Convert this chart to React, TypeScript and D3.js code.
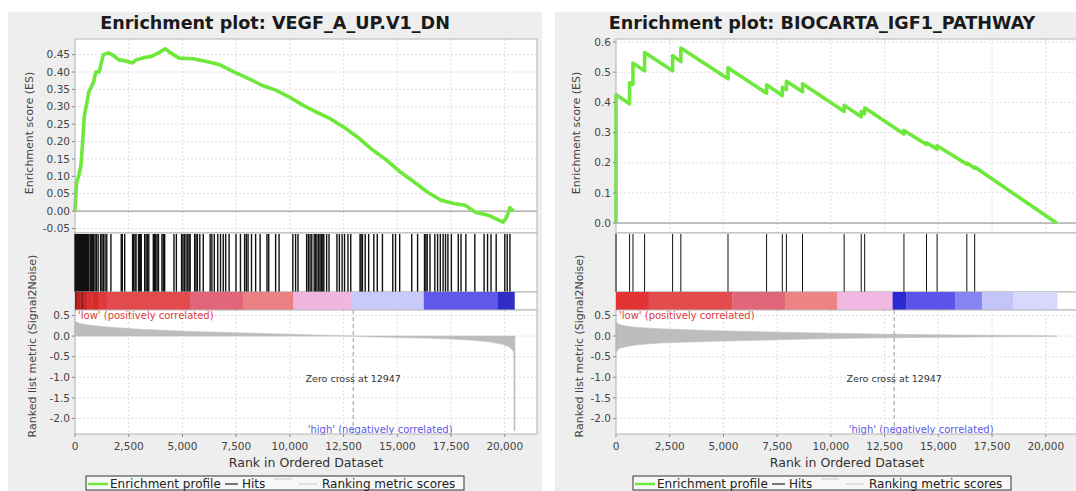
import React from "react";
import * as d3 from "d3";

// shared axis values
const rankTicks = [0, 2500, 5000, 7500, 10000, 12500, 15000, 17500, 20000];
const metricTicks = [0.5, 0, -0.5, -1, -1.5, -2];
const zeroCross = 12947;

// left plot: VEGF_A_UP.V1_DN
const vegfTitle = "Enrichment plot: VEGF_A_UP.V1_DN";
const vegfEsTicks = [0.45, 0.4, 0.35, 0.3, 0.25, 0.2, 0.15, 0.1, 0.05, 0, -0.05];
const vegfEsRank = [0, 67, 164, 276, 356, 436, 548, 645, 757, 869, 965, 1126, 1238, 1318, 1559, 1799, 2040, 2361, 2682, 2842, 3243, 3564, 3885, 4205, 4446, 4847, 5488, 6130, 6771, 7413, 8054, 8695, 9337, 9978, 10620, 11261, 11902, 12544, 13185, 13827, 14468, 15109, 15751, 16392, 17034, 17675, 18156, 18637, 19279, 19920, 20081, 20241, 20402];
const vegfEs = [0, 0.08, 0.1, 0.13, 0.2, 0.275, 0.31, 0.343, 0.357, 0.372, 0.4, 0.4, 0.43, 0.45, 0.455, 0.447, 0.435, 0.432, 0.426, 0.435, 0.442, 0.445, 0.455, 0.467, 0.455, 0.44, 0.438, 0.43, 0.42, 0.4, 0.382, 0.362, 0.348, 0.328, 0.304, 0.284, 0.265, 0.24, 0.211, 0.177, 0.148, 0.114, 0.085, 0.055, 0.031, 0.021, 0.017, -0.003, -0.013, -0.032, -0.018, 0.01, 0];
const vegfHits = [3, 35, 67, 99, 131, 164, 196, 228, 260, 292, 324, 356, 388, 420, 452, 484, 516, 548, 580, 613, 645, 709, 757, 805, 869, 933, 997, 1078, 1190, 1254, 1318, 1398, 1479, 1671, 2152, 2200, 2312, 2681, 2729, 2793, 2842, 2954, 3002, 3050, 3082, 3243, 3307, 3371, 3435, 3644, 3692, 3756, 3820, 3885, 4045, 4109, 4173, 4606, 4718, 4959, 5023, 5087, 5167, 5247, 5311, 5359, 5568, 5632, 5696, 5808, 5969, 6290, 6370, 6482, 6642, 6771, 6899, 7011, 7171, 7492, 7700, 7893, 7973, 8053, 8214, 8406, 8614, 8935, 9015, 9336, 9497, 10138, 10266, 10378, 10779, 10859, 10939, 11019, 11131, 11196, 11260, 11340, 11404, 11468, 11532, 11580, 11709, 11821, 12190, 12302, 12430, 12543, 12703, 12832, 13265, 13313, 13377, 13505, 13666, 13906, 14067, 14307, 14788, 14917, 15109, 15670, 15943, 16264, 16328, 16392, 16520, 16745, 16873, 17001, 17130, 17242, 17354, 17515, 17836, 17964, 18189, 18606, 19039, 19199, 19360, 19600, 20001, 20113, 20241];
const vegfHeatBreaks = [0, 120, 250, 400, 543, 800, 1100, 1474, 5349, 7814, 10163, 12832, 16232, 19680, 20450];
const vegfHeatColors = ["#9e1818", "#c42222", "#a81818", "#c82626", "#dc3030", "#d42a2a", "#e03a3a", "#e24a4e", "#e2657a", "#ea8284", "#f0b6e0", "#cacafa", "#6058ea", "#2e2ec6"];
const vegfMetricRank = [0, 200, 600, 1500, 3000, 5000, 7500, 10000, 11500, 12947, 14000, 15000, 16500, 17500, 18500, 19300, 19900, 20200, 20400, 20425, 20430, 20475];
const vegfMetricHigh = [0.36, 0.31, 0.27, 0.22, 0.165, 0.12, 0.08, 0.045, 0.02, 0, 0, 0, 0, 0, 0, 0, 0, 0, 0, 0, 0, 0];
const vegfMetricLow = [0, 0, 0, 0, 0, 0, 0, 0, 0, 0, -0.02, -0.035, -0.05, -0.07, -0.1, -0.14, -0.2, -0.26, -0.36, -0.45, -2.3, -2.3];

// right plot: BIOCARTA_IGF1_PATHWAY
const igfTitle = "Enrichment plot: BIOCARTA_IGF1_PATHWAY";
const igfEsTicks = [0.6, 0.5, 0.4, 0.3, 0.2, 0.1, 0];
const igfEsRank = [0, 1, 632, 632, 790, 790, 1331, 1331, 2634, 2634, 3017, 3017, 5212, 5212, 7008, 7008, 7740, 7740, 7930, 7930, 8679, 8679, 10617, 10617, 11412, 11412, 11572, 11572, 13400, 13400, 14450, 14450, 14943, 14943, 16326, 16326, 16692, 16692, 20500];
const igfEs = [0, 0.425, 0.395, 0.465, 0.46, 0.53, 0.505, 0.565, 0.505, 0.555, 0.535, 0.58, 0.478, 0.515, 0.43, 0.458, 0.423, 0.45, 0.442, 0.47, 0.435, 0.462, 0.37, 0.39, 0.352, 0.37, 0.362, 0.382, 0.295, 0.307, 0.26, 0.266, 0.245, 0.256, 0.195, 0.199, 0.182, 0.186, 0];
const igfHits = [1, 632, 790, 1331, 2634, 3017, 5212, 7008, 7740, 7930, 8679, 10617, 11412, 11572, 13400, 14450, 14943, 16326, 16692];
const igfHeatBreaks = [0, 1521, 5418, 7883, 10298, 12874, 13512, 15786, 17028, 18488, 20526];
const igfHeatColors = ["#e23434", "#e24c4c", "#e2667a", "#ec8484", "#f0b8e2", "#2a2ad2", "#5c54ea", "#8484f2", "#c4c4fa", "#d8d8fc"];
const igfMetricRank = [0, 150, 500, 1000, 2000, 3000, 5000, 7500, 10000, 12500, 15000, 17000, 19000, 20500];
const igfMetricHigh = [0.35, 0.28, 0.24, 0.21, 0.18, 0.16, 0.125, 0.095, 0.07, 0.045, 0.03, 0.02, 0.012, 0.005];
const igfMetricLow = [-0.39, -0.3, -0.25, -0.21, -0.17, -0.15, -0.12, -0.09, -0.06, -0.04, -0.03, -0.02, -0.01, -0.003];

const W = 1076;
const H = 491;
const PANEL_TOP = 12;
const PANEL_W = 534;
const PLOT_W = 462;
const RANK_MAX = 21500;
const ES_TOP = 39;
const ES_BOTTOM = 233;
const HEAT_TOP = 292;
const HEAT_BOTTOM = 310;
const M_BOTTOM = 434;
const FONT = "'DejaVu Sans', Verdana, sans-serif";
const GREEN = "#6ee83a";

const loc = d3.formatLocale({ decimal: ".", thousands: ",", grouping: [3], currency: ["", ""], minus: "-" });
const fmtRank = loc.format(",");

function Panel({ left, plotLeft, title, esTicks, esDomain, esFmt, esRank, es, hits, hitWidth, heatBreaks, heatColors, mRank, mHigh, mLow }: any) {
    const x = d3.scaleLinear().domain([0, RANK_MAX]).range([plotLeft, plotLeft + PLOT_W]);
    const yEs = d3.scaleLinear().domain(esDomain).range([ES_BOTTOM, ES_TOP]);
    const yM = d3.scaleLinear().domain([-2.376, 0.633]).range([M_BOTTOM, HEAT_BOTTOM]);
    const fmt = loc.format(esFmt);
    const fmtM = loc.format(".1f");

    const esLine = d3.line<number>().x((d, i) => x(esRank[i])).y((d) => yEs(d));
    const mArea = d3.area<number>().x((d, i) => x(mRank[i])).y0((d, i) => yM(mLow[i])).y1((d) => yM(d));

    const right = plotLeft + PLOT_W;
    const cx = left + PANEL_W / 2;
    const grid = { stroke: "#d6d6d6", strokeWidth: 0.8, strokeDasharray: "2,2" };

    // legend geometry
    const lgLeft = cx - 189;

    return (
        <g fontFamily={FONT}>
            <rect x={left} y={PANEL_TOP} width={PANEL_W} height={H - PANEL_TOP} fill="#eeeeee" />
            <text x={cx} y={29} textAnchor="middle" fontSize={17.6} fontWeight="bold" fill="#1a1a1a">{title}</text>

            {/* enrichment score plot */}
            <rect x={plotLeft} y={ES_TOP} width={PLOT_W} height={ES_BOTTOM - ES_TOP} fill="#fff" />
            {esTicks.map((t: number) => (
                <line key={"eg" + t} x1={plotLeft} x2={right} y1={yEs(t)} y2={yEs(t)} {...grid} />
            ))}
            {rankTicks.map((t) => (
                <line key={"ev" + t} x1={x(t)} x2={x(t)} y1={ES_TOP} y2={ES_BOTTOM} {...grid} />
            ))}
            <line x1={plotLeft} x2={right} y1={yEs(0)} y2={yEs(0)} stroke="#8a8a8a" strokeWidth={1} />
            <path d={esLine(es) || ""} fill="none" stroke={GREEN} strokeWidth={3.6} strokeLinejoin="round" />
            {esTicks.map((t: number) => (
                <g key={"et" + t}>
                    <line x1={plotLeft - 3} x2={plotLeft} y1={yEs(t)} y2={yEs(t)} stroke="#888" />
                    <text x={plotLeft - 5} y={yEs(t)} dy="0.35em" textAnchor="end" fontSize={10.5} fill="#444">{fmt(t)}</text>
                </g>
            ))}
            <rect x={plotLeft} y={ES_TOP} width={PLOT_W} height={ES_BOTTOM - ES_TOP} fill="none" stroke="#b4b4b4" />
            <text transform={`translate(${left + 21},${(ES_TOP + ES_BOTTOM) / 2 - 3}) rotate(-90)`} textAnchor="middle" dy="0.35em" fontSize={11} fill="#444">Enrichment score (ES)</text>

            {/* hits */}
            <rect x={plotLeft} y={ES_BOTTOM} width={PLOT_W} height={HEAT_TOP - ES_BOTTOM} fill="#fff" stroke="#b4b4b4" />
            {hits.map((h: number, i: number) => (
                <line key={"h" + i} x1={x(h)} x2={x(h)} y1={ES_BOTTOM + 1} y2={HEAT_TOP} stroke="#111" strokeWidth={hitWidth} />
            ))}

            {/* ranked list heat map */}
            <rect x={plotLeft} y={HEAT_TOP} width={PLOT_W} height={HEAT_BOTTOM - HEAT_TOP} fill="#fff" stroke="#b4b4b4" />
            {heatColors.map((c: string, i: number) => (
                <rect key={"hm" + i} x={x(heatBreaks[i])} y={HEAT_TOP} width={x(heatBreaks[i + 1]) - x(heatBreaks[i]) + 0.3} height={HEAT_BOTTOM - HEAT_TOP} fill={c} />
            ))}

            {/* ranked list metric */}
            <rect x={plotLeft} y={HEAT_BOTTOM} width={PLOT_W} height={M_BOTTOM - HEAT_BOTTOM} fill="#fff" />
            {metricTicks.map((t) => (
                <line key={"mg" + t} x1={plotLeft} x2={right} y1={yM(t)} y2={yM(t)} {...grid} />
            ))}
            {rankTicks.map((t) => (
                <line key={"mv" + t} x1={x(t)} x2={x(t)} y1={HEAT_BOTTOM} y2={M_BOTTOM} {...grid} />
            ))}
            <path d={mArea(mHigh) || ""} fill="#bdbdbd" stroke="#bdbdbd" strokeWidth={0.6} />
            <line x1={x(zeroCross)} x2={x(zeroCross)} y1={HEAT_BOTTOM} y2={M_BOTTOM} stroke="#999" strokeDasharray="4,3" />
            <text x={plotLeft + 3} y={yM(0.5)} dy="0.35em" fontSize={10} fill="#e03c3c">'low' (positively correlated)</text>
            <text x={x(zeroCross)} y={yM(-1.03)} dy="0.35em" textAnchor="middle" fontSize={9.5} fill="#333">Zero cross at {zeroCross}</text>
            <text x={x(14200)} y={yM(-2.27)} dy="0.35em" textAnchor="middle" fontSize={10} fill="#5a5ae6">'high' (negatively correlated)</text>
            {metricTicks.map((t) => (
                <g key={"mt" + t}>
                    <line x1={plotLeft - 3} x2={plotLeft} y1={yM(t)} y2={yM(t)} stroke="#888" />
                    <text x={plotLeft - 5} y={yM(t)} dy="0.35em" textAnchor="end" fontSize={10.5} fill="#444">{fmtM(t)}</text>
                </g>
            ))}
            <rect x={plotLeft} y={HEAT_BOTTOM} width={PLOT_W} height={M_BOTTOM - HEAT_BOTTOM} fill="none" stroke="#b4b4b4" />
            <text transform={`translate(${left + 24},${346}) rotate(-90)`} textAnchor="middle" dy="0.35em" fontSize={11} fill="#444">Ranked list metric (Signal2Noise)</text>

            {/* x axis */}
            {rankTicks.map((t) => (
                <g key={"xt" + t}>
                    <line x1={x(t)} x2={x(t)} y1={M_BOTTOM} y2={M_BOTTOM + 3} stroke="#888" />
                    <text x={x(t)} y={446} dy="0.35em" textAnchor="middle" fontSize={10.5} fill="#444">{fmtRank(t)}</text>
                </g>
            ))}
            <text x={plotLeft + PLOT_W / 2} y={463} dy="0.35em" textAnchor="middle" fontSize={12.5} fill="#333">Rank in Ordered Dataset</text>

            {/* legend */}
            <rect x={lgLeft} y={476} width={378} height={14} fill="#f7f7f7" stroke="#333" />
            <line x1={lgLeft + 2} x2={lgLeft + 22} y1={484} y2={484} stroke={GREEN} strokeWidth={2.5} />
            <text x={lgLeft + 24} y={484} dy="0.35em" fontSize={12} fill="#222">Enrichment profile</text>
            <line x1={lgLeft + 139} x2={lgLeft + 152} y1={484} y2={484} stroke="#222" strokeWidth={1.2} />
            <text x={lgLeft + 156} y={484} dy="0.35em" fontSize={12} fill="#222">Hits</text>
            <line x1={lgLeft + 188} x2={lgLeft + 206} y1={479} y2={479} stroke="#cfcfcf" strokeWidth={1.2} />
            <line x1={lgLeft + 213} x2={lgLeft + 231} y1={484} y2={484} stroke="#cfcfcf" strokeWidth={1.2} />
            <text x={lgLeft + 236} y={484} dy="0.35em" fontSize={12} fill="#222">Ranking metric scores</text>
        </g>
    );
}

export default function App() {
    return (
        <svg width={W} height={H} style={{ position: "absolute", left: 0, top: 0, background: "#fff" }}>
            <Panel left={8} plotLeft={75} title={vegfTitle} esTicks={vegfEsTicks} esDomain={[-0.063, 0.495]} esFmt=".2f"
                esRank={vegfEsRank} es={vegfEs} hits={vegfHits} hitWidth={1.4}
                heatBreaks={vegfHeatBreaks} heatColors={vegfHeatColors}
                mRank={vegfMetricRank} mHigh={vegfMetricHigh} mLow={vegfMetricLow} />
            <Panel left={555} plotLeft={616} title={igfTitle} esTicks={igfEsTicks} esDomain={[-0.033, 0.61]} esFmt=".1f"
                esRank={igfEsRank} es={igfEs} hits={igfHits} hitWidth={1}
                heatBreaks={igfHeatBreaks} heatColors={igfHeatColors}
                mRank={igfMetricRank} mHigh={igfMetricHigh} mLow={igfMetricLow} />
        </svg>
    );
}
